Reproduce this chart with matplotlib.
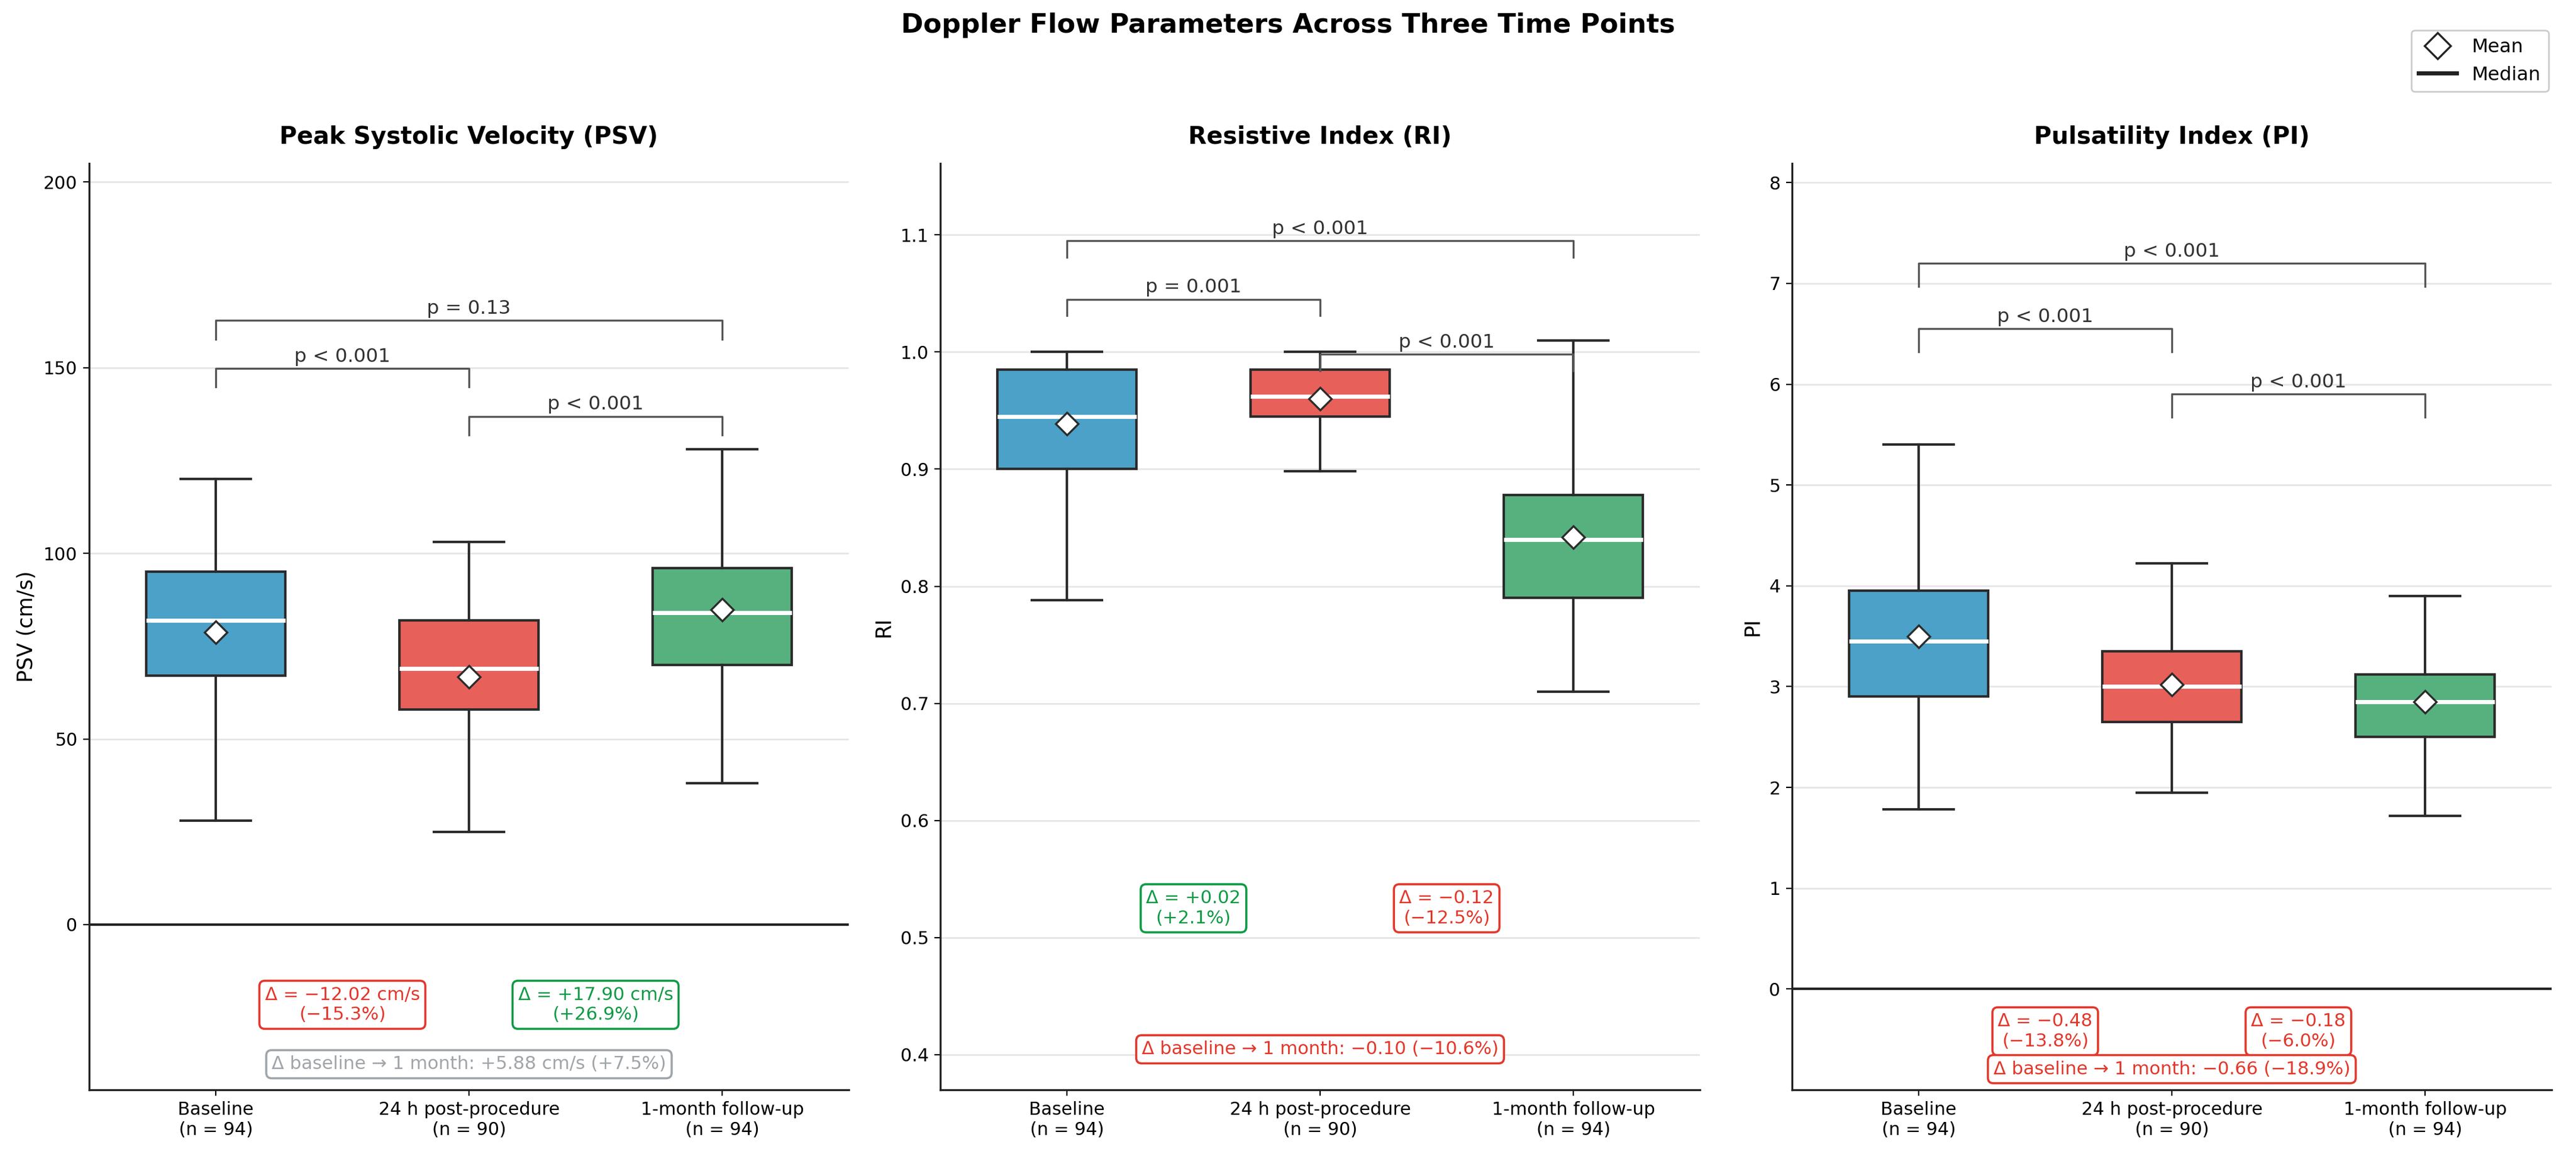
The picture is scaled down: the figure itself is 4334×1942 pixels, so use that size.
import matplotlib
matplotlib.use('Agg')
import matplotlib.pyplot as plt
from matplotlib.lines import Line2D

plt.rcParams['font.family'] = ['DejaVu Sans']

# ---------------- data ----------------
categories = ['Baseline', '24 h post-procedure', '1-month follow-up']
n_counts = [94, 90, 94]

psv_q1 = [67.0, 58.0, 70.0]
psv_med = [82.0, 69.0, 84.0]
psv_q3 = [95.0, 82.0, 96.0]
psv_lo = [28.0, 25.0, 38.0]
psv_hi = [120.0, 103.0, 128.0]
psv_mean = [78.8, 66.8, 84.8]

ri_q1 = [0.900, 0.945, 0.790]
ri_med = [0.945, 0.962, 0.840]
ri_q3 = [0.985, 0.985, 0.878]
ri_lo = [0.788, 0.898, 0.710]
ri_hi = [1.000, 1.000, 1.010]
ri_mean = [0.939, 0.960, 0.842]

pi_q1 = [2.90, 2.65, 2.50]
pi_med = [3.45, 3.00, 2.85]
pi_q3 = [3.95, 3.35, 3.12]
pi_lo = [1.78, 1.95, 1.72]
pi_hi = [5.40, 4.22, 3.90]
pi_mean = [3.50, 3.02, 2.85]

bracket_pairs = [(0, 1), (1, 2), (0, 2)]
psv_bracket_y = [149.8, 136.9, 162.7]
psv_p_labels = ['p < 0.001', 'p < 0.001', 'p = 0.13']
ri_bracket_y = [1.045, 0.998, 1.095]
ri_p_labels = ['p = 0.001', 'p < 0.001', 'p < 0.001']
pi_bracket_y = [6.55, 5.90, 7.20]
pi_p_labels = ['p < 0.001', 'p < 0.001', 'p < 0.001']

psv_delta_text = ['Δ = −12.02 cm/s\n(−15.3%)', 'Δ = +17.90 cm/s\n(+26.9%)']
psv_delta_kind = ['down', 'up']
psv_overall_text = 'Δ baseline → 1 month: +5.88 cm/s (+7.5%)'
psv_overall_kind = 'ns'

ri_delta_text = ['Δ = +0.02\n(+2.1%)', 'Δ = −0.12\n(−12.5%)']
ri_delta_kind = ['up', 'down']
ri_overall_text = 'Δ baseline → 1 month: −0.10 (−10.6%)'
ri_overall_kind = 'down'

pi_delta_text = ['Δ = −0.48\n(−13.8%)', 'Δ = −0.18\n(−6.0%)']
pi_delta_kind = ['down', 'down']
pi_overall_text = 'Δ baseline → 1 month: −0.66 (−18.9%)'
pi_overall_kind = 'down'

# ---------------- style ----------------
box_colors = ['#4BA1C7', '#E8605A', '#57B17E']
kind_colors = {'down': '#E2382C', 'up': '#109A45', 'ns': '#A0A5AA'}
edge = '#2b2b2b'

panels = [
    dict(title='Peak Systolic Velocity (PSV)', ylabel='PSV (cm/s)',
         q1=psv_q1, med=psv_med, q3=psv_q3, lo=psv_lo, hi=psv_hi, mean=psv_mean,
         by=psv_bracket_y, bl=psv_p_labels, leg=5.0,
         dt=psv_delta_text, dk=psv_delta_kind, dy=-21.6,
         ot=psv_overall_text, ok=psv_overall_kind, oy=-37.6,
         ylim=(-44.5, 205.0), ticks=[0, 50, 100, 150, 200],
         left=150),
    dict(title='Resistive Index (RI)', ylabel='RI',
         q1=ri_q1, med=ri_med, q3=ri_q3, lo=ri_lo, hi=ri_hi, mean=ri_mean,
         by=ri_bracket_y, bl=ri_p_labels, leg=0.014,
         dt=ri_delta_text, dk=ri_delta_kind, dy=0.525,
         ot=ri_overall_text, ok=ri_overall_kind, oy=0.4046,
         ylim=(0.370, 1.161), ticks=[0.4, 0.5, 0.6, 0.7, 0.8, 0.9, 1.0, 1.1],
         left=1582),
    dict(title='Pulsatility Index (PI)', ylabel='PI',
         q1=pi_q1, med=pi_med, q3=pi_q3, lo=pi_lo, hi=pi_hi, mean=pi_mean,
         by=pi_bracket_y, bl=pi_p_labels, leg=0.23,
         dt=pi_delta_text, dk=pi_delta_kind, dy=-0.42,
         ot=pi_overall_text, ok=pi_overall_kind, oy=-0.795,
         ylim=(-1.0, 8.19), ticks=[0, 1, 2, 3, 4, 5, 6, 7, 8],
         left=3015),
]

W, H = 4334, 1942
DPI = 200
fig = plt.figure(figsize=(W / DPI, H / DPI), dpi=DPI)

ax_w = 1278 / W
ax_b = 1 - 1834 / H
ax_h = (1834 - 275) / H
positions = [0, 1, 2]
xticklabels = [f'{c}\n(n = {n})' for c, n in zip(categories, n_counts)]

for p in panels:
    ax = fig.add_axes([p['left'] / W, ax_b, ax_w, ax_h])
    stats = []
    for i in range(3):
        stats.append(dict(med=p['med'][i], q1=p['q1'][i], q3=p['q3'][i],
                          whislo=p['lo'][i], whishi=p['hi'][i],
                          mean=p['mean'][i], fliers=[]))
    bp = ax.bxp(stats, positions=positions, widths=0.55, patch_artist=True,
                showmeans=True, showfliers=False,
                boxprops=dict(edgecolor=edge, linewidth=1.5),
                whiskerprops=dict(color=edge, linewidth=1.5),
                capprops=dict(color=edge, linewidth=1.5),
                medianprops=dict(color='white', linewidth=2.5),
                meanprops=dict(marker='D', markerfacecolor='white',
                               markeredgecolor=edge, markersize=9.7,
                               markeredgewidth=1.2),
                zorder=3)
    for patch, col in zip(bp['boxes'], box_colors):
        patch.set_facecolor(col)

    ax.axhline(0, color='#222222', linewidth=1.5, zorder=2)

    # significance brackets
    for (a, b), y, lab in zip(bracket_pairs, p['by'], p['bl']):
        ax.plot([a, a, b, b], [y - p['leg'], y, y, y - p['leg']],
                color='#555555', linewidth=1.2, zorder=4)
        ax.annotate(lab, xy=((a + b) / 2, y), xytext=(0, 1.5),
                    textcoords='offset points', ha='center', va='bottom',
                    fontsize=11.7, color='#333333', zorder=5)

    # delta annotations
    for k, (txt, kind) in enumerate(zip(p['dt'], p['dk'])):
        c = kind_colors[kind]
        ax.text(k + 0.5, p['dy'], txt, ha='center', va='center',
                fontsize=11, color=c, zorder=6,
                bbox=dict(boxstyle='round,pad=0.3', facecolor='white',
                          edgecolor=c, linewidth=1.3))
    c = kind_colors[p['ok']]
    ax.text(1.0, p['oy'], p['ot'], ha='center', va='center',
            fontsize=11, color=c, zorder=6,
            bbox=dict(boxstyle='round,pad=0.3', facecolor='white',
                      edgecolor=c, linewidth=1.3))

    ax.set_xlim(-0.5, 2.5)
    ax.set_ylim(*p['ylim'])
    ax.set_yticks(p['ticks'])
    ax.set_xticks(positions)
    ax.set_xticklabels(xticklabels, fontsize=10.8)
    ax.tick_params(axis='y', labelsize=10.8)
    ax.set_ylabel(p['ylabel'], fontsize=12.5)
    ax.set_title(p['title'], fontsize=14.5, fontweight='bold', pad=12)
    ax.grid(axis='y', color='#e6e6e6', linewidth=1.0, zorder=0)
    ax.set_axisbelow(True)
    for s in ['top', 'right']:
        ax.spines[s].set_visible(False)
    for s in ['left', 'bottom']:
        ax.spines[s].set_linewidth(1.2)
        ax.spines[s].set_color('#222222')

fig.suptitle('Doppler Flow Parameters Across Three Time Points',
             fontsize=16.2, fontweight='bold', y=0.978, va='center')

handles = [Line2D([0], [0], marker='D', linestyle='none', markerfacecolor='white',
                  markeredgecolor='#222222', markersize=11, markeredgewidth=1.2),
           Line2D([0], [0], color='#222222', linewidth=2.5)]
fig.legend(handles, ['Mean', 'Median'], loc='upper right',
           bbox_to_anchor=(0.993, 0.982), fontsize=11.5, frameon=True,
           framealpha=1.0, edgecolor='#cccccc')

fig.savefig('out.png', dpi=DPI)
